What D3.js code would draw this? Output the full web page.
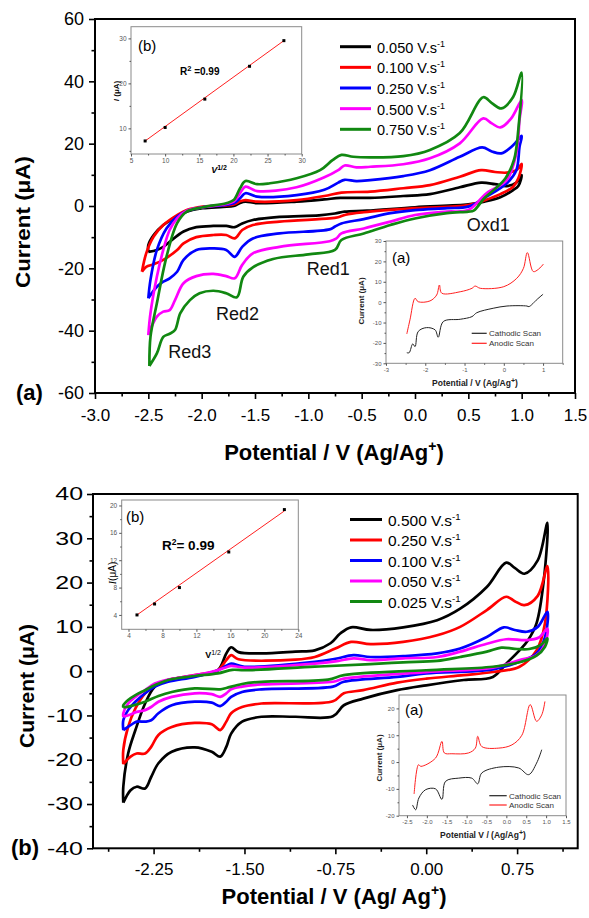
<!DOCTYPE html>
<html><head><meta charset="utf-8">
<script src="https://cdn.jsdelivr.net/npm/d3@7"></script>
<style>
body{margin:0;background:#fff}
svg{display:block}
text{font-family:"Liberation Sans",Arial,sans-serif}
</style></head>
<body><svg id="c" width="589" height="918"></svg>
<script>
// ================= DATA =================
// Panel (a): scan rates and CV loops [potential V, current µA]
const aRates = ["0.050","0.100","0.250","0.500","0.750"];
const aColors = ["#000000","#ff0000","#0000ff","#ff00ff","#118811"];
const aCV050 = [[-2.50,-14.7],[-2.50,-12.5],[-2.45,-9.3],[-2.36,-6.1],[-2.23,-3.4],[-2.14,-1.8],[-1.99,-0.7],[-1.80,-0.3],[-1.70,0.0],[-1.64,1.0],[-1.59,1.4],[-1.48,0.9],[-1.11,1.4],[-0.85,2.1],[-0.70,2.6],[-0.42,2.6],[-0.11,3.2],[0.14,3.8],[0.42,6.0],[0.62,7.5],[0.75,7.0],[0.86,6.4],[0.95,7.5],[1.00,9.9],
  [0.97,6.5],[0.92,5.1],[0.80,2.8],[0.65,1.4],[0.50,0.5],[0.00,-0.4],[-0.45,-1.5],[-0.66,-1.8],[-0.75,-2.4],[-0.90,-3.0],[-1.27,-3.5],[-1.52,-4.5],[-1.62,-5.6],[-1.69,-6.8],[-1.77,-6.4],[-1.89,-6.4],[-2.05,-6.8],[-2.17,-8.2],[-2.30,-11.5],[-2.36,-13.1],[-2.42,-14.1],[-2.50,-14.7]];
const aCV100 = [[-2.56,-21.1],[-2.52,-15.2],[-2.45,-9.8],[-2.36,-6.1],[-2.23,-2.9],[-2.14,-1.3],[-1.99,-0.2],[-1.70,0.5],[-1.64,1.5],[-1.59,1.9],[-1.48,1.4],[-1.11,1.9],[-0.85,3.2],[-0.69,4.3],[-0.42,4.6],[-0.11,5.7],[0.14,6.7],[0.42,9.4],[0.62,11.5],[0.75,10.9],[0.86,10.7],[0.95,11.5],[1.00,13.5],
  [0.97,9.0],[0.92,6.2],[0.80,3.8],[0.65,1.8],[0.50,0.3],[0.00,-0.7],[-0.48,-2.0],[-0.65,-2.8],[-0.72,-3.6],[-0.80,-4.0],[-1.27,-5.0],[-1.52,-6.1],[-1.62,-7.7],[-1.69,-10.4],[-1.77,-9.3],[-1.89,-9.3],[-2.05,-10.0],[-2.17,-12.0],[-2.23,-14.1],[-2.36,-17.3],[-2.45,-18.7],[-2.52,-19.5],[-2.56,-21.1]];
const aCV250 = [[-2.50,-29.6],[-2.48,-23.7],[-2.42,-14.1],[-2.33,-7.2],[-2.23,-3.4],[-2.14,-1.6],[-1.99,-0.4],[-1.70,0.9],[-1.64,2.5],[-1.59,4.1],[-1.48,3.0],[-1.11,3.5],[-0.85,5.2],[-0.72,7.5],[-0.66,8.4],[-0.55,8.0],[-0.42,8.3],[-0.11,9.6],[0.14,11.5],[0.42,15.8],[0.63,18.8],[0.72,17.5],[0.81,16.9],[0.92,19.5],[1.00,22.5],
  [0.98,19.0],[0.95,11.5],[0.86,7.3],[0.67,3.0],[0.50,-0.2],[0.30,-0.7],[0.00,-1.3],[-0.23,-2.3],[-0.48,-4.2],[-0.69,-5.6],[-0.75,-6.6],[-0.80,-7.5],[-1.27,-8.8],[-1.52,-10.4],[-1.62,-13.1],[-1.69,-16.3],[-1.77,-14.1],[-1.89,-13.6],[-2.05,-14.1],[-2.17,-17.3],[-2.23,-21.1],[-2.30,-23.2],[-2.36,-24.3],[-2.42,-25.9],[-2.50,-29.6]];
const aCV500 = [[-2.50,-41.4],[-2.48,-34.4],[-2.42,-22.7],[-2.36,-14.1],[-2.30,-7.7],[-2.23,-4.0],[-2.14,-1.5],[-1.99,-0.4],[-1.70,1.4],[-1.64,4.1],[-1.59,6.2],[-1.48,4.8],[-1.11,6.0],[-0.85,9.2],[-0.72,11.5],[-0.66,13.0],[-0.55,12.4],[-0.42,12.6],[-0.11,13.4],[0.14,15.3],[0.42,20.1],[0.64,28.1],[0.72,26.5],[0.80,25.2],[0.90,28.0],[1.00,34.0],
  [0.98,27.6],[0.95,16.9],[0.86,8.3],[0.67,4.1],[0.50,-1.3],[0.30,-1.8],[0.00,-2.9],[-0.23,-5.0],[-0.48,-7.2],[-0.69,-8.8],[-0.74,-10.5],[-0.80,-11.3],[-1.27,-13.1],[-1.52,-15.2],[-1.62,-18.9],[-1.69,-23.2],[-1.77,-22.5],[-1.89,-21.8],[-2.05,-22.5],[-2.17,-24.8],[-2.25,-30.2],[-2.30,-33.4],[-2.36,-33.9],[-2.42,-35.5],[-2.50,-41.4]];
const aCV750 = [[-2.49,-51.3],[-2.48,-42.0],[-2.42,-31.2],[-2.33,-16.3],[-2.23,-5.5],[-2.14,-1.8],[-1.99,-0.4],[-1.77,0.9],[-1.70,1.9],[-1.64,5.7],[-1.59,8.0],[-1.48,7.0],[-1.36,7.3],[-1.11,8.9],[-0.89,11.5],[-0.77,14.8],[-0.69,16.4],[-0.58,15.8],[-0.42,15.6],[-0.11,16.0],[0.14,18.0],[0.42,23.4],[0.64,34.9],[0.72,33.0],[0.81,31.3],[0.92,35.0],[1.00,42.8],
  [0.97,25.0],[0.93,15.0],[0.85,9.0],[0.75,5.5],[0.65,2.5],[0.55,-1.5],[0.50,-1.8],[0.30,-2.3],[0.00,-4.0],[-0.23,-6.1],[-0.48,-8.8],[-0.69,-10.9],[-0.75,-14.1],[-1.00,-15.5],[-1.33,-17.0],[-1.52,-19.7],[-1.61,-22.7],[-1.67,-29.3],[-1.77,-28.0],[-1.89,-27.2],[-2.02,-28.0],[-2.11,-30.2],[-2.20,-34.4],[-2.25,-39.8],[-2.30,-41.0],[-2.36,-42.0],[-2.42,-47.3],[-2.49,-51.3]];
const aXTicks = [-3.0,-2.5,-2.0,-1.5,-1.0,-0.5,0.0,0.5,1.0,1.5];
const aYTicks = [-60,-40,-20,0,20,40,60];
const aPeakLabels = ["Oxd1","Red1","Red2","Red3"];
// inset (b) of panel (a): peak current vs v^1/2
const aFitX = [7.07,10.0,15.81,22.36,27.39];
const aFitI = [7.2,10.2,16.5,23.8,29.5];
// inset (a) of panel (a)
const aCathodic = [[-2.47,-24.8],[-2.41,-24.8],[-2.32,-20.5],[-2.26,-21.8],[-2.18,-14.4],[-1.97,-12.5],[-1.75,-13.6],[-1.67,-17.2],[-1.54,-9.5],[-1.11,-8.4],[-0.81,-7.1],[-0.69,-5.2],[-0.27,-3.0],[0.08,-1.9],[0.59,-1.9],[0.64,-2.2],[0.85,1.4],[1.00,3.9]];
const aAnodic = [[-2.47,-15.6],[-2.39,-8.7],[-2.26,1.9],[-2.18,0.2],[-1.88,0.6],[-1.71,3.5],[-1.64,8.4],[-1.58,4.4],[-1.11,5.1],[-0.81,6.8],[-0.73,7.9],[-0.60,6.8],[0.00,7.6],[0.33,11.7],[0.50,16.6],[0.60,24.3],[0.75,15.0],[0.88,16.1],[1.01,18.7]];

// Panel (b)
const bRates = ["0.500","0.250","0.100","0.050","0.025"];
const bColors = ["#000000","#ff0000","#0000ff","#ff00ff","#118811"];
const bCV500 = [[-2.50,-29.7],[-2.50,-26.1],[-2.46,-18.6],[-2.40,-13.3],[-2.32,-7.3],[-2.24,-3.5],[-2.13,-2.0],[-1.91,-1.1],[-1.72,0.2],[-1.65,4.0],[-1.61,5.4],[-1.55,4.3],[-1.36,4.0],[-1.08,4.4],[-0.92,4.7],[-0.79,6.3],[-0.71,8.5],[-0.62,9.9],[-0.46,9.3],[-0.19,9.9],[0.09,11.5],[0.28,14.1],[0.50,19.0],[0.66,24.5],[0.73,23.3],[0.81,22.0],[0.92,25.0],[1.00,33.5],
  [0.97,20.5],[0.91,10.8],[0.84,7.0],[0.77,4.7],[0.66,1.7],[0.55,-1.3],[0.31,-2.0],[0.00,-3.2],[-0.24,-4.3],[-0.52,-6.2],[-0.68,-7.7],[-0.77,-10.2],[-1.08,-10.3],[-1.36,-10.3],[-1.52,-11.4],[-1.61,-14.1],[-1.65,-17.1],[-1.70,-19.3],[-1.77,-18.2],[-1.91,-17.2],[-2.10,-18.2],[-2.21,-20.8],[-2.27,-23.9],[-2.32,-26.5],[-2.39,-26.1],[-2.44,-26.9],[-2.50,-29.7]];
const bCV250 = [[-2.50,-21.0],[-2.50,-17.8],[-2.46,-12.6],[-2.40,-8.4],[-2.32,-5.0],[-2.24,-3.2],[-2.13,-2.0],[-1.91,-0.9],[-1.72,0.2],[-1.65,2.5],[-1.61,3.6],[-1.55,2.7],[-1.08,2.6],[-0.92,3.2],[-0.75,5.1],[-0.62,6.6],[-0.46,6.1],[-0.19,6.6],[0.09,8.1],[0.28,10.0],[0.50,13.8],[0.66,16.8],[0.73,15.8],[0.81,14.9],[0.92,17.0],[1.00,23.7],
  [0.98,10.8],[0.91,4.7],[0.77,1.0],[0.55,-0.2],[0.31,-0.9],[0.00,-1.7],[-0.24,-2.6],[-0.52,-4.3],[-0.68,-5.0],[-0.77,-6.8],[-1.36,-7.3],[-1.52,-8.1],[-1.61,-9.5],[-1.65,-11.4],[-1.70,-13.3],[-1.77,-12.0],[-1.91,-11.7],[-2.10,-12.6],[-2.21,-14.4],[-2.27,-17.1],[-2.32,-18.6],[-2.39,-18.6],[-2.44,-19.3],[-2.50,-21.0]];
const bCV100 = [[-2.50,-13.3],[-2.50,-11.1],[-2.46,-8.8],[-2.40,-6.9],[-2.32,-5.0],[-2.24,-3.5],[-2.13,-2.4],[-1.91,-1.3],[-1.72,0.2],[-1.65,1.2],[-1.61,1.7],[-1.50,1.0],[-0.92,2.1],[-0.75,2.8],[-0.60,3.6],[-0.46,3.2],[-0.19,3.4],[0.09,4.0],[0.28,5.1],[0.50,7.7],[0.64,9.9],[0.73,9.3],[0.83,8.9],[0.92,10.0],[1.00,13.4],
  [0.98,7.7],[0.91,4.0],[0.77,2.1],[0.55,0.4],[0.00,-0.5],[-0.24,-1.3],[-0.68,-2.4],[-0.77,-3.5],[-1.36,-4.1],[-1.52,-4.7],[-1.61,-5.8],[-1.65,-6.9],[-1.70,-7.9],[-1.77,-7.1],[-1.91,-6.9],[-2.10,-7.7],[-2.21,-9.5],[-2.27,-11.1],[-2.32,-11.4],[-2.39,-11.4],[-2.44,-12.2],[-2.50,-13.3]];
const bCV050 = [[-2.50,-10.3],[-2.50,-9.5],[-2.46,-7.3],[-2.40,-5.8],[-2.32,-4.3],[-2.24,-2.8],[-2.13,-1.9],[-1.91,-0.9],[-1.72,0.2],[-1.65,0.9],[-1.61,1.2],[-1.50,0.8],[-0.92,1.7],[-0.75,2.2],[-0.60,2.9],[-0.46,2.5],[-0.19,2.9],[0.09,3.2],[0.28,4.4],[0.50,6.2],[0.66,7.2],[0.83,7.0],[0.93,7.6],[1.00,9.6],
  [0.98,6.2],[0.91,3.6],[0.77,2.5],[0.55,0.8],[0.00,-0.2],[-0.68,-1.7],[-0.77,-2.4],[-1.36,-3.0],[-1.52,-3.5],[-1.61,-4.1],[-1.65,-5.0],[-1.70,-5.8],[-1.77,-5.2],[-1.91,-5.0],[-2.10,-5.8],[-2.21,-6.9],[-2.27,-8.1],[-2.32,-8.8],[-2.39,-9.2],[-2.44,-9.8],[-2.50,-10.3]];
const bCV025 = [[-2.50,-8.2],[-2.50,-7.7],[-2.46,-6.5],[-2.40,-5.4],[-2.32,-4.3],[-2.24,-3.2],[-2.13,-2.0],[-1.91,-1.1],[-1.72,-0.5],[-1.60,0.3],[-1.50,0.2],[-0.92,1.0],[-0.46,1.6],[-0.19,2.0],[0.09,2.3],[0.28,3.2],[0.50,4.4],[0.62,5.3],[0.75,5.0],[0.85,5.0],[0.95,6.0],[1.00,7.4],
  [0.98,5.5],[0.91,3.5],[0.77,2.0],[0.55,1.0],[0.00,0.2],[-0.68,-0.9],[-0.81,-1.9],[-1.36,-2.4],[-1.52,-2.9],[-1.65,-3.8],[-1.70,-4.1],[-1.91,-3.9],[-2.10,-4.7],[-2.21,-5.6],[-2.32,-6.9],[-2.44,-7.9],[-2.50,-8.2]];
const bXTicks = [-2.25,-1.50,-0.75,0.00,0.75];
const bYTicks = [-40,-30,-20,-10,0,10,20,30,40];
// inset (b) of panel (b)
const bFitX = [5.0,7.07,10.0,15.81,22.36];
const bFitI = [4.0,5.6,8.0,13.2,19.4];
// inset (a) of panel (b)
const bCathodic = [[-2.36,-16.0],[-2.28,-17.8],[-2.20,-13.4],[-2.03,-10.3],[-1.78,-10.0],[-1.62,-13.9],[-1.53,-7.2],[-1.20,-6.0],[-0.87,-6.0],[-0.72,-8.1],[-0.62,-4.1],[-0.19,-1.9],[0.31,-2.2],[0.56,-4.7],[0.76,-0.4],[0.89,4.6]];
const bAnodic = [[-2.32,-11.9],[-2.21,-1.0],[-2.15,-1.6],[-1.78,1.5],[-1.62,7.7],[-1.56,3.4],[-1.37,3.1],[-0.95,3.4],[-0.78,5.2],[-0.72,9.6],[-0.62,5.8],[-0.19,5.2],[0.14,6.4],[0.39,10.0],[0.60,21.4],[0.76,15.2],[0.89,17.6],[0.97,22.6]];

// ================= DRAWING =================
const svg = d3.select("#c");
const FONT = '"Liberation Sans",Arial,sans-serif';

function styleAxis(sel, size, color){
  sel.select(".domain").remove();
  sel.selectAll("text").attr("font-size", size).attr("font-family", FONT).attr("fill", color);
  sel.selectAll("line").attr("stroke", color);
}

function mainPanel(o){
  const g = svg.append("g");
  const x = d3.scaleLinear().domain(o.xDom).range([o.left, o.right]);
  const y = d3.scaleLinear().domain(o.yDom).range([o.bottom, o.top]);
  g.append("g").attr("transform",`translate(0,${o.bottom})`)
    .call(d3.axisBottom(x).tickValues(o.xMinor).tickSize(3.5).tickFormat(""))
    .call(s=>{s.select(".domain").remove(); s.selectAll("line").attr("stroke","#000").attr("stroke-width",1.6);});
  g.append("g").attr("transform",`translate(${o.left},0)`)
    .call(d3.axisLeft(y).tickValues(o.yMinor).tickSize(3.5).tickFormat(""))
    .call(s=>{s.select(".domain").remove(); s.selectAll("line").attr("stroke","#000").attr("stroke-width",1.6);});
  g.append("g").attr("transform",`translate(0,${o.bottom})`)
    .call(d3.axisBottom(x).tickValues(o.xTicks).tickSize(6).tickPadding(o.xPad).tickFormat(o.xFmt))
    .call(s=>{styleAxis(s,o.xFont,"#000"); s.selectAll("line").attr("stroke-width",1.6);});
  const ya = g.append("g").attr("transform",`translate(${o.left},0)`)
    .call(d3.axisLeft(y).tickValues(o.yTicks).tickSize(6).tickPadding(o.yPad).tickFormat(d=>String(d)))
    .call(s=>{styleAxis(s,o.yFont,"#000"); s.selectAll("line").attr("stroke-width",1.6);});
  if (o.yStretch){
    ya.selectAll("text").each(function(){
      const w = this.getComputedTextLength();
      d3.select(this).attr("textLength", w*o.yStretch).attr("lengthAdjust","spacingAndGlyphs");
    });
  }
  const line = d3.line().x(d=>x(d[0])).y(d=>y(d[1])).curve(d3.curveCatmullRom.alpha(0.5));
  o.series.forEach((s,i)=>{
    g.append("path").attr("d", line(s)).attr("fill","none")
      .attr("stroke", o.colors[i]).attr("stroke-width",2.7).attr("stroke-linejoin","round");
  });
  g.append("rect").attr("x",o.left).attr("y",o.top).attr("width",o.right-o.left).attr("height",o.bottom-o.top)
    .attr("fill","none").attr("stroke","#000").attr("stroke-width",2);
  o.labels.forEach((lab,i)=>{
    const ly = o.legY + i*o.legDy;
    g.append("line").attr("x1",o.legX).attr("x2",o.legX+o.legLen).attr("y1",ly).attr("y2",ly)
      .attr("stroke",o.colors[i]).attr("stroke-width",3);
    const t = g.append("text").attr("x",o.legX+o.legLen+6).attr("y",ly+6).attr("font-size",o.legFont).attr("fill","#000");
    t.append("tspan").text(lab+" V.s");
    t.append("tspan").attr("dy",-6).attr("font-size",o.legFont*0.62).text("-1");
  });
  const xt = g.append("text").attr("x",o.xTitleX).attr("y",o.xTitleY).attr("text-anchor","middle")
    .attr("font-size",22).attr("font-weight","bold");
  xt.append("tspan").text(o.xTitle);
  xt.append("tspan").attr("dy",-9).attr("font-size",14).text("+");
  xt.append("tspan").attr("dy",9).text(")");
  g.append("text").attr("transform",`translate(${o.yTitleX},${o.yTitleY}) rotate(-90)`)
    .attr("text-anchor","middle").attr("font-size",21).attr("font-weight","bold")
    .attr("textLength",o.yTitleLen).attr("lengthAdjust","spacingAndGlyphs").text("Current (\u03bcA)");
  g.append("text").attr("x",o.tagX).attr("y",o.tagY).attr("font-size",22).attr("font-weight","bold").text(o.tag);
  return {g,x,y};
}

function insetAxes(g, o){
  const x = d3.scaleLinear().domain(o.xDom).range([o.left,o.right]);
  const y = d3.scaleLinear().domain(o.yDom).range([o.bottom,o.top]);
  const col = "#555";
  g.append("rect").attr("x",o.left).attr("y",o.top).attr("width",o.right-o.left).attr("height",o.bottom-o.top)
    .attr("fill","#fff").attr("stroke","#8a8a8a").attr("stroke-width",1);
  if (o.xMinor) g.append("g").attr("transform",`translate(0,${o.bottom})`)
    .call(d3.axisBottom(x).tickValues(o.xMinor).tickSize(1.5).tickFormat(""))
    .call(s=>styleAxis(s,6,col));
  if (o.yMinor) g.append("g").attr("transform",`translate(${o.left},0)`)
    .call(d3.axisLeft(y).tickValues(o.yMinor).tickSize(1.5).tickFormat(""))
    .call(s=>styleAxis(s,6,col));
  g.append("g").attr("transform",`translate(0,${o.bottom})`)
    .call(d3.axisBottom(x).tickValues(o.xTicks).tickSize(2.5).tickPadding(2).tickFormat(o.xFmt))
    .call(s=>styleAxis(s,o.font,col));
  g.append("g").attr("transform",`translate(${o.left},0)`)
    .call(d3.axisLeft(y).tickValues(o.yTicks).tickSize(2.5).tickPadding(2).tickFormat(o.yFmt))
    .call(s=>styleAxis(s,o.font,col));
  return {x,y};
}

// ---------- Panel (a) ----------
const A = mainPanel({
  xDom:[-3,1.5], yDom:[-60,60], left:95, right:575, top:19, bottom:393,
  xTicks:aXTicks, xMinor:d3.range(-2.75,1.5,0.5),
  yTicks:aYTicks, yMinor:d3.range(-50,60,20),
  xFmt:d=>d.toFixed(1), xFont:17, xPad:10, yFont:18, yPad:5, yStretch:null,
  series:[aCV050,aCV100,aCV250,aCV500,aCV750], colors:aColors,
  labels:aRates, legX:340, legLen:31, legY:46.7, legDy:20.65, legFont:14.5,
  xTitle:"Potential / V (Ag/Ag", xTitleX:334, xTitleY:460,
  yTitleX:30, yTitleY:222, yTitleLen:132, tag:"(a)", tagX:16, tagY:400
});
[[466.7,231],[306.7,275],[216,320],[168.3,358]].forEach((p,i)=>{
  A.g.append("text").attr("x",p[0]).attr("y",p[1]).attr("font-size",18).attr("fill","#111").text(aPeakLabels[i]);
});

// inset (b) in panel (a)
{
  const g = A.g.append("g");
  const s = insetAxes(g,{xDom:[5,30], yDom:[4.3,32.6], left:131, right:301.7, top:26.7, bottom:154,
    xTicks:[5,10,15,20,25,30], xMinor:d3.range(7.5,30,5), yTicks:[10,20,30], yMinor:[5,15,25],
    xFmt:d=>d, yFmt:d=>d, font:6.5});
  g.append("line").attr("x1",s.x(aFitX[0])).attr("y1",s.y(aFitI[0]))
    .attr("x2",s.x(aFitX[4])).attr("y2",s.y(aFitI[4])).attr("stroke","#ff2020").attr("stroke-width",1);
  aFitX.forEach((v,i)=>g.append("rect").attr("x",s.x(v)-1.5).attr("y",s.y(aFitI[i])-1.5)
    .attr("width",3).attr("height",3).attr("fill","#000"));
  g.append("text").attr("x",138).attr("y",51).attr("font-size",15).text("(b)");
  const r = g.append("text").attr("x",180).attr("y",75).attr("font-size",10).attr("font-weight","bold");
  r.append("tspan").text("R"); r.append("tspan").attr("dy",-4).attr("font-size",7.5).text("2");
  r.append("tspan").attr("dy",4).text(" =0.99");
  const yl = g.append("text").attr("transform","translate(119,91) rotate(-90)").attr("text-anchor","middle")
    .attr("font-size",8).attr("font-weight","bold");
  yl.append("tspan").attr("font-style","italic").text("I"); yl.append("tspan").text(" (\u03bcA)");
  const xl = g.append("text").attr("x",219).attr("y",173).attr("text-anchor","middle")
    .attr("font-size",9).attr("font-weight","bold").attr("font-style","italic");
  xl.append("tspan").text("V"); xl.append("tspan").attr("dy",-3).attr("font-size",7).attr("font-style","normal").text("1/2");
}
// inset (a) in panel (a)
{
  const g = A.g.append("g");
  const s = insetAxes(g,{xDom:[-3,1.5], yDom:[-30,30], left:386, right:562.7, top:241, bottom:363.3,
    xTicks:[-3,-2,-1,0,1], xMinor:[-2.5,-1.5,-0.5,0.5,1.5], yTicks:[-30,-20,-10,0,10,20,30], yMinor:d3.range(-25,30,10),
    xFmt:d=>d, yFmt:d=>d, font:6});
  const ln = d3.line().x(d=>s.x(d[0])).y(d=>s.y(d[1])).curve(d3.curveCatmullRom.alpha(0.5));
  g.append("path").attr("d",ln(aCathodic)).attr("fill","none").attr("stroke","#222").attr("stroke-width",1);
  g.append("path").attr("d",ln(aAnodic)).attr("fill","none").attr("stroke","#ff2020").attr("stroke-width",1);
  [["Cathodic Scan","#222",333.3],["Anodic Scan","#ff2020",343.3]].forEach(l=>{
    g.append("line").attr("x1",471.7).attr("x2",486.7).attr("y1",l[2]).attr("y2",l[2]).attr("stroke",l[1]).attr("stroke-width",1.2);
    g.append("text").attr("x",489).attr("y",l[2]+2.8).attr("font-size",8).attr("fill","#333").text(l[0]);
  });
  g.append("text").attr("x",392).attr("y",263).attr("font-size",15).text("(a)");
  g.append("text").attr("transform","translate(364,301) rotate(-90)").attr("text-anchor","middle")
    .attr("font-size",8).attr("font-weight","bold").attr("fill","#222").text("Current (\u03bcA)");
  const xl = g.append("text").attr("x",475).attr("y",386).attr("text-anchor","middle")
    .attr("font-size",8.5).attr("font-weight","bold").attr("fill","#222");
  xl.append("tspan").text("Potential / V (Ag/Ag"); xl.append("tspan").attr("dy",-3).attr("font-size",7).text("+");
  xl.append("tspan").attr("dy",3).text(")");
}

// ---------- Panel (b) ----------
const B = mainPanel({
  xDom:[-2.75,1.25], yDom:[-40,40], left:93, right:577.7, top:494, bottom:848.3,
  xTicks:bXTicks, xMinor:d3.range(-2.625,1.25,0.75),
  yTicks:bYTicks, yMinor:d3.range(-35,40,10),
  xFmt:d=>d.toFixed(2), xFont:17, xPad:9, yFont:18.5, yPad:4, yStretch:1.35,
  series:[bCV500,bCV250,bCV100,bCV050,bCV025], colors:bColors,
  labels:bRates, legX:350, legLen:32, legY:519.5, legDy:20.5, legFont:15.5,
  xTitle:"Potential / V (Ag/ Ag", xTitleX:334, xTitleY:904,
  yTitleX:34, yTitleY:686, yTitleLen:124, tag:"(b)", tagX:11, tagY:855
});
// inset (b) in panel (b)
{
  const g = B.g.append("g");
  const s = insetAxes(g,{xDom:[3.2,24], yDom:[1.9,20.8], left:121.7, right:298.3, top:500, bottom:629.3,
    xTicks:[4,8,12,16,20,24], xMinor:d3.range(6,24,4), yTicks:[4,8,12,16,20], yMinor:[6,10,14,18],
    xFmt:d=>d, yFmt:d=>d, font:6.5});
  g.append("line").attr("x1",s.x(bFitX[0])).attr("y1",s.y(bFitI[0]))
    .attr("x2",s.x(bFitX[4])).attr("y2",s.y(19.2)).attr("stroke","#ff2020").attr("stroke-width",1);
  bFitX.forEach((v,i)=>g.append("rect").attr("x",s.x(v)-1.5).attr("y",s.y(bFitI[i])-1.5)
    .attr("width",3).attr("height",3).attr("fill","#000"));
  g.append("text").attr("x",126).attr("y",522).attr("font-size",15).text("(b)");
  const r = g.append("text").attr("x",162).attr("y",550).attr("font-size",13.5).attr("font-weight","bold");
  r.append("tspan").text("R"); r.append("tspan").attr("dy",-5.5).attr("font-size",8.5).text("2");
  r.append("tspan").attr("dy",5.5).text("= 0.99");
  const yl = g.append("text").attr("transform","translate(116,573) rotate(-90)").attr("text-anchor","middle")
    .attr("font-size",10);
  yl.append("tspan").attr("font-style","italic").attr("font-family","'Liberation Serif',serif").text("I");
  yl.append("tspan").text("(\u03bcA)");
  const xl = g.append("text").attr("x",213).attr("y",658).attr("text-anchor","middle")
    .attr("font-size",9).attr("font-weight","bold");
  xl.append("tspan").text("V"); xl.append("tspan").attr("dy",-3).attr("font-size",7).attr("font-weight","normal").text("1/2");
}
// inset (a) in panel (b)
{
  const g = B.g.append("g");
  const s = insetAxes(g,{xDom:[-2.7,1.5], yDom:[-20,25], left:399, right:566, top:695, bottom:815.7,
    xTicks:d3.range(-2.5,1.51,0.5), xMinor:null, yTicks:[-20,-10,0,10,20], yMinor:[-15,-5,5,15],
    xFmt:d=>d.toFixed(1), yFmt:d=>d, font:6});
  const ln = d3.line().x(d=>s.x(d[0])).y(d=>s.y(d[1])).curve(d3.curveCatmullRom.alpha(0.5));
  g.append("path").attr("d",ln(bCathodic)).attr("fill","none").attr("stroke","#222").attr("stroke-width",1);
  g.append("path").attr("d",ln(bAnodic)).attr("fill","none").attr("stroke","#ff2020").attr("stroke-width",1);
  [["Cathodic Scan","#222",795.7],["Anodic Scan","#ff2020",805]].forEach(l=>{
    g.append("line").attr("x1",489.3).attr("x2",506.7).attr("y1",l[2]).attr("y2",l[2]).attr("stroke",l[1]).attr("stroke-width",1.2);
    g.append("text").attr("x",509).attr("y",l[2]+2.8).attr("font-size",8).attr("fill","#333").text(l[0]);
  });
  g.append("text").attr("x",405).attr("y",715).attr("font-size",15).text("(a)");
  g.append("text").attr("transform","translate(382,758) rotate(-90)").attr("text-anchor","middle")
    .attr("font-size",8).attr("font-weight","bold").attr("fill","#222").text("Current (\u03bcA)");
  const xl = g.append("text").attr("x",483).attr("y",838).attr("text-anchor","middle")
    .attr("font-size",8.5).attr("font-weight","bold").attr("fill","#222");
  xl.append("tspan").text("Potential V / (Ag/Ag"); xl.append("tspan").attr("dy",-3).attr("font-size",7).text("+");
  xl.append("tspan").attr("dy",3).text(")");
}
</script>
</body></html>
